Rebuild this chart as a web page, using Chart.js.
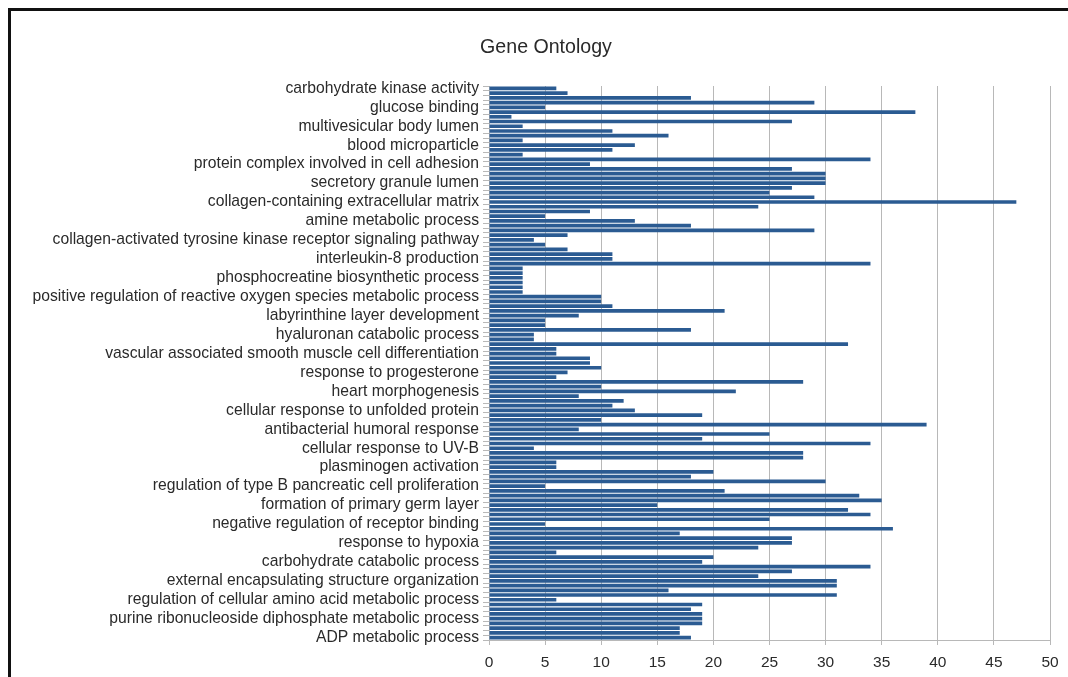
<!DOCTYPE html>
<html><head><meta charset="utf-8">
<script src="https://cdn.jsdelivr.net/npm/chart.js@4"></script>
<style>
html,body{margin:0;padding:0;background:#fff;}
#wrap{position:relative;width:1068px;height:677px;overflow:hidden;}
#frame{position:absolute;left:8px;top:8px;width:1070px;height:680px;border-top:3px solid #111;border-left:3px solid #111;pointer-events:none;}
</style></head>
<body><div id="wrap"><canvas id="c" width="1068" height="677"></canvas><div id="frame"></div></div>
<script>
const chartTitle = 'Gene Ontology';
const tickLabels = [
  'carbohydrate kinase activity','glucose binding','multivesicular body lumen','blood microparticle',
  'protein complex involved in cell adhesion','secretory granule lumen','collagen-containing extracellular matrix',
  'amine metabolic process','collagen-activated tyrosine kinase receptor signaling pathway','interleukin-8 production',
  'phosphocreatine biosynthetic process','positive regulation of reactive oxygen species metabolic process',
  'labyrinthine layer development','hyaluronan catabolic process','vascular associated smooth muscle cell differentiation',
  'response to progesterone','heart morphogenesis','cellular response to unfolded protein','antibacterial humoral response',
  'cellular response to UV-B','plasminogen activation','regulation of type B pancreatic cell proliferation',
  'formation of primary germ layer','negative regulation of receptor binding','response to hypoxia',
  'carbohydrate catabolic process','external encapsulating structure organization',
  'regulation of cellular amino acid metabolic process','purine ribonucleoside diphosphate metabolic process',
  'ADP metabolic process'
];
const values = [
  6,7,18,29,5,38,2,27,3,11,16,3,13,11,3,34,9,27,30,30,
  30,27,25,29,47,24,9,5,13,18,29,7,4,5,7,11,11,34,3,3,
  3,3,3,3,10,10,11,21,8,5,5,18,4,4,32,6,6,9,9,10,
  7,6,28,10,22,8,12,11,13,19,10,39,8,25,19,34,4,28,28,6,
  6,20,18,30,5,21,33,35,15,32,34,25,5,36,17,27,27,24,6,20,
  19,34,27,24,31,31,16,31,6,19,18,19,19,19,17,17,18
];
const labelEvery = 4;
const xMin = 0, xMax = 50, xStep = 5;

const categories = values.map((v, i) => (i % labelEvery === 0 ? tickLabels[i / labelEvery] : ''));
const FONT = 'Liberation Sans';

const titlePlugin = {
  id: 'fixedTitle',
  afterDraw(chart) {
    const ctx = chart.ctx;
    ctx.save();
    ctx.font = '19.6px "' + FONT + '"';
    ctx.fillStyle = '#2a2a2a';
    ctx.textAlign = 'center';
    ctx.textBaseline = 'middle';
    ctx.fillText(chartTitle, 546, 48);
    ctx.restore();
  }
};

new Chart(document.getElementById('c'), {
  type: 'bar',
  data: {
    labels: categories,
    datasets: [{
      data: values,
      backgroundColor: '#2b5b92',
      barPercentage: 0.78,
      categoryPercentage: 1.0
    }]
  },
  options: {
    indexAxis: 'y',
    responsive: false,
    animation: false,
    devicePixelRatio: 1,
    layout: { padding: { left: 10, right: 18, top: 86, bottom: 6 } },
    plugins: { legend: { display: false }, tooltip: { enabled: false }, title: { display: false } },
    scales: {
      y: {
        grid: { drawOnChartArea: false, drawTicks: true, tickLength: 6, color: '#b8b8b8', offset: true },
        border: { display: true, color: '#b8b8b8' },
        ticks: { autoSkip: false, padding: 4, color: '#2a2a2a', font: { family: FONT, size: 15.7 } },
        afterFit(s) { s.width = 479; }
      },
      x: {
        min: xMin, max: xMax,
        ticks: { stepSize: xStep, padding: 8, color: '#2a2a2a', font: { family: FONT, size: 15.5 } },
        grid: { color: '#b8b8b8', tickLength: 5 },
        border: { color: '#b8b8b8' },
        afterFit(s) { s.height = 31; }
      }
    }
  },
  plugins: [titlePlugin]
});
</script>
</body></html>
